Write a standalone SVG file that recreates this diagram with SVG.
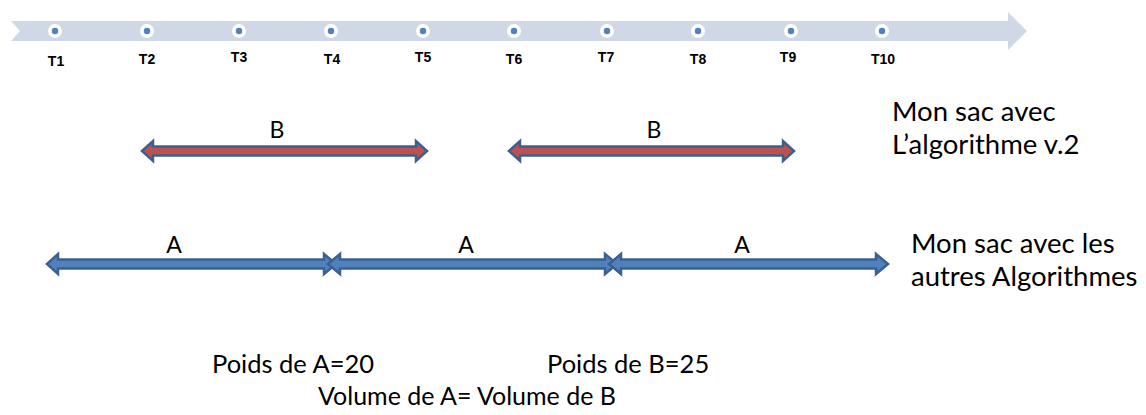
<svg xmlns="http://www.w3.org/2000/svg" width="1146" height="415" viewBox="0 0 1146 415">
<style>
.tl{font-family:"Liberation Sans",Arial,sans-serif;font-weight:bold;font-size:14px;fill:#000;text-anchor:middle}
.lbl{font-family:Lato,"Liberation Sans",sans-serif;font-size:23px;fill:#000;text-anchor:middle}
.txt{font-family:Lato,"Liberation Sans",sans-serif;font-size:27.5px;fill:#000}
.note{font-family:Lato,"Liberation Sans",sans-serif;font-size:25.5px;fill:#000}
.ring{fill:#fff}
.dot{fill:#4f81bd}
.red{fill:#c0504d;stroke:#3b6090;stroke-width:2.5;stroke-linejoin:miter}
.blue{fill:#4f81bd;stroke:#3b6090;stroke-width:2.5;stroke-linejoin:miter}
</style>
<rect width="1146" height="415" fill="#fff"/>
<g id="timeline">
<path d="M11,21 L1008,21 L1008,12 L1027,31 L1008,50 L1008,41 L11,41 L20,31 Z" fill="#d0d8e8"/>
<g id="ticks">
<circle class="ring" cx="55" cy="31" r="7"/><circle class="dot" cx="55" cy="31" r="3.2"/>
<circle class="ring" cx="147" cy="31" r="7"/><circle class="dot" cx="147" cy="31" r="3.2"/>
<circle class="ring" cx="239" cy="31" r="7"/><circle class="dot" cx="239" cy="31" r="3.2"/>
<circle class="ring" cx="331" cy="31" r="7"/><circle class="dot" cx="331" cy="31" r="3.2"/>
<circle class="ring" cx="423" cy="31" r="7"/><circle class="dot" cx="423" cy="31" r="3.2"/>
<circle class="ring" cx="514" cy="31" r="7"/><circle class="dot" cx="514" cy="31" r="3.2"/>
<circle class="ring" cx="607" cy="31" r="7"/><circle class="dot" cx="607" cy="31" r="3.2"/>
<circle class="ring" cx="698" cy="31" r="7"/><circle class="dot" cx="698" cy="31" r="3.2"/>
<circle class="ring" cx="791" cy="31" r="7"/><circle class="dot" cx="791" cy="31" r="3.2"/>
<circle class="ring" cx="882" cy="31" r="7"/><circle class="dot" cx="882" cy="31" r="3.2"/>
</g>
<g id="tick-labels">
<text class="tl" x="56" y="66">T1</text>
<text class="tl" x="147" y="64">T2</text>
<text class="tl" x="239" y="62">T3</text>
<text class="tl" x="332" y="64">T4</text>
<text class="tl" x="423" y="62">T5</text>
<text class="tl" x="514" y="64">T6</text>
<text class="tl" x="606" y="62">T7</text>
<text class="tl" x="698" y="64">T8</text>
<text class="tl" x="788" y="62">T9</text>
<text class="tl" x="883" y="64">T10</text>
</g>
</g>
<g id="connectors">
<path id="b1" class="red" d="M142,151 L153,141 L153,146.5 L416,146.5 L416,141 L427,151 L416,161 L416,155.5 L153,155.5 L153,161 Z"/>
<path id="b2" class="red" d="M509,151 L520,141 L520,146.5 L783,146.5 L783,141 L794,151 L783,161 L783,155.5 L520,155.5 L520,161 Z"/>
<path id="a1" class="blue" d="M47,264 L58,254 L58,259.5 L324,259.5 L324,254 L336,264 L324,274 L324,268.5 L58,268.5 L58,274 Z"/>
<path id="a2" class="blue" d="M328,264 L340,254 L340,259.5 L605,259.5 L605,254 L617,264 L605,274 L605,268.5 L340,268.5 L340,274 Z"/>
<path id="a3" class="blue" d="M609,264 L621,254 L621,259.5 L876,259.5 L876,254 L888,264 L876,274 L876,268.5 L621,268.5 L621,274 Z"/>
</g>
<g id="arrow-labels">
<text class="lbl" x="277" y="138">B</text>
<text class="lbl" x="654" y="138">B</text>
<text class="lbl" x="174" y="253">A</text>
<text class="lbl" x="466" y="253">A</text>
<text class="lbl" x="742" y="253">A</text>
</g>
<g id="legend-b">
<text class="txt" x="892" y="121">Mon sac avec</text>
<text class="txt" x="892" y="154">L’algorithme v.2</text>
</g>
<g id="legend-a">
<text class="txt" x="911" y="253">Mon sac avec les</text>
<text class="txt" x="911" y="286">autres Algorithmes</text>
</g>
<g id="notes">
<text class="note" x="212" y="373">Poids de A=20</text>
<text class="note" x="547" y="373">Poids de B=25</text>
<text class="note" x="318" y="405" style="font-size:25px">Volume de A= Volume de B</text>
</g>
</svg>
